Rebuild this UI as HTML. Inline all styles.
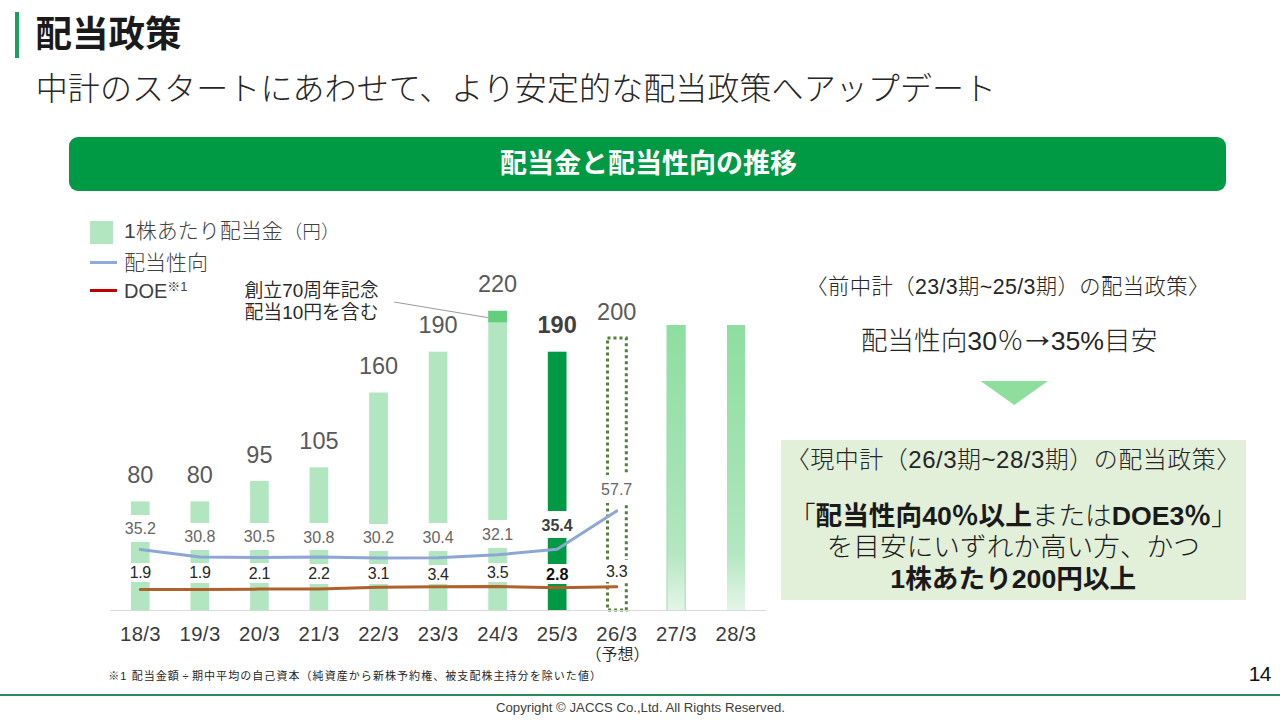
<!DOCTYPE html>
<html lang="ja">
<head>
<meta charset="utf-8">
<title>配当政策</title>
<style>
*{margin:0;padding:0;box-sizing:border-box}
html,body{width:1280px;height:720px;overflow:hidden;background:#fff}
body{position:relative;font-family:"Liberation Sans","Noto Sans CJK JP",sans-serif;color:#262626}
.a{position:absolute;white-space:nowrap}
.c{position:absolute;white-space:nowrap;text-align:center;transform:translateX(-50%)}
#tbar{left:15px;top:12px;width:4px;height:46px;background:#1aa05e}
#title{left:35.5px;top:8.5px;font-size:36.5px;line-height:52px;font-weight:700;color:#1a1a1a}
#sub{left:35.75px;top:64.5px;font-size:32px;line-height:48px;font-weight:300;color:#262626;letter-spacing:0.09px}
#banner{left:69px;top:137px;width:1157px;height:54px;border-radius:9px;background:#009944}
#bannert{left:648.5px;top:144.2px;font-size:27px;line-height:40px;font-weight:700;color:#fff}
.lg{font-size:21px;line-height:30px;font-weight:300;color:#404040}
.vl{font-size:23.5px;line-height:28px;color:#595959;font-weight:400}
.vl.b{color:#404040}
.wb{background:#fff}
.pl{font-size:16px;line-height:18px;color:#666}
.pl.b{color:#404040;font-size:16px}
.dl{font-size:16px;line-height:20px;color:#262626;letter-spacing:-0.3px}
.dl.b{color:#111;font-size:16.2px;letter-spacing:0}
.xl{font-size:20.3px;line-height:24px;color:#3a3a3a;letter-spacing:0.4px;text-indent:0.4px}
.b{font-weight:700}
.r1{font-size:21.33px;line-height:30px;font-weight:300;color:#262626}
.r2{font-size:26.67px;line-height:36px;font-weight:300;color:#262626}
.r3{font-size:24px;line-height:32px;font-weight:300;color:#262626}
.r4{font-size:26.67px;line-height:32px;font-weight:300;color:#1a1a1a}
.r4 b{font-weight:700}
.ar{font-size:37px;line-height:0;margin:0 -5px;position:relative;top:-3px}
</style>
</head>
<body>
<div class="a" id="tbar"></div>
<div class="a" id="title">配当政策</div>
<div class="a" id="sub">中計のスタートにあわせて、より安定的な配当政策へアップデート</div>
<div class="a" id="banner"></div>
<div class="c" id="bannert">配当金と配当性向の推移</div>

<!-- legend -->
<div class="a" style="left:90px;top:221px;width:23px;height:23px;background:#b1e6c0"></div>
<div class="a lg" style="left:124px;top:216px">1株あたり配当金<span style="font-size:18.6px;margin-left:1px;position:relative;top:-0.5px">（円）</span></div>
<div class="a" style="left:89.5px;top:260.5px;width:27px;height:3px;background:#8faadc"></div>
<div class="a lg" style="left:124px;top:248px">配当性向</div>
<div class="a" style="left:89.5px;top:288.5px;width:27px;height:3px;background:#c00000"></div>
<div class="a lg" style="left:124px;top:276px"><span style="font-size:20px">DOE</span><span style="font-size:13px;position:relative;top:-7px">※1</span></div>

<div class="a" style="left:244.5px;top:280.2px;font-size:18.85px;line-height:22px;color:#262626;font-weight:350">創立70周年記念<br>配当10円を含む</div>

<!-- chart: bars -->
<svg class="a" style="left:0;top:0" width="1280" height="720" viewBox="0 0 1280 720">
  <defs>
    <linearGradient id="g1" x1="0" y1="0" x2="0" y2="1">
      <stop offset="0" stop-color="#8edea0"/>
      <stop offset="0.55" stop-color="#a5e3b4"/>
      <stop offset="0.8" stop-color="#b4e7c1"/>
      <stop offset="1" stop-color="#e4f5e8"/>
    </linearGradient>
  </defs>
  <g fill="#b1e6c0">
    <rect x="130.95" y="501.4" width="18.7" height="108.9"/>
    <rect x="190.5" y="501.4" width="18.7" height="108.9"/>
    <rect x="250.05" y="480.98" width="18.7" height="129.32"/>
    <rect x="309.6" y="467.36" width="18.7" height="142.94"/>
    <rect x="369.15" y="392.49" width="18.7" height="217.81"/>
    <rect x="428.7" y="351.65" width="18.7" height="258.65"/>
    <rect x="488.25" y="310.81" width="18.7" height="299.49"/>
  </g>
  <rect x="488.25" y="310.8" width="18.7" height="11.5" fill="#61cf7c"/>
  <rect x="547.8" y="351.7" width="18.7" height="258.6" fill="#009944"/>
  <rect x="666.9" y="325" width="18.4" height="285.2" fill="url(#g1)"/>
  <path d="M667 325V610M685.2 325V610" stroke="#9fdbb0" stroke-width="1" fill="none"/>
  <rect x="727" y="325" width="18" height="285.2" fill="url(#g1)"/>
  <rect x="607.5" y="338" width="18.8" height="272" fill="none" stroke="#55803a" stroke-width="3" stroke-dasharray="3 3"/>
  <line x1="110" y1="610.5" x2="766" y2="610.5" stroke="#d9d9d9" stroke-width="1"/>
  <line x1="394.2" y1="302" x2="487.8" y2="317.6" stroke="#7f7f7f" stroke-width="0.8"/>
</svg>

<!-- chart: labels -->
<div class="c vl" style="left:140.3px;top:461px">80</div>
<div class="c vl" style="left:199.85px;top:461px">80</div>
<div class="c vl" style="left:259.4px;top:440.58px">95</div>
<div class="c vl" style="left:318.95px;top:426.96px">105</div>
<div class="c vl" style="left:378.5px;top:352.09px">160</div>
<div class="c vl" style="left:438.05px;top:311.25px">190</div>
<div class="c vl" style="left:497.6px;top:270.41px">220</div>
<div class="c vl b" style="left:557.15px;top:311.25px">190</div>
<div class="c vl" style="left:616.7px;top:297.64px">200</div>
<div class="a wb" style="left:118.3px;top:515px;width:44px;height:27.2px"></div>
<div class="c pl" style="left:140.3px;top:520.2px">35.2</div>
<div class="a wb" style="left:177.85px;top:522.8px;width:44px;height:27.2px"></div>
<div class="c pl" style="left:199.85px;top:528.4px">30.8</div>
<div class="a wb" style="left:237.4px;top:522.9px;width:44px;height:27.2px"></div>
<div class="c pl" style="left:259.4px;top:528.3px">30.5</div>
<div class="a wb" style="left:296.95px;top:522.5px;width:44px;height:27.5px"></div>
<div class="c pl" style="left:318.95px;top:528.5px">30.8</div>
<div class="a wb" style="left:356.5px;top:523.6px;width:44px;height:27.6px"></div>
<div class="c pl" style="left:378.5px;top:528.8px">30.2</div>
<div class="a wb" style="left:416.05px;top:522.9px;width:44px;height:28px"></div>
<div class="c pl" style="left:438.05px;top:528.7px">30.4</div>
<div class="a wb" style="left:475.6px;top:519.8px;width:44px;height:28px"></div>
<div class="c pl" style="left:497.6px;top:525.8px">32.1</div>
<div class="a wb" style="left:535.15px;top:510.8px;width:44px;height:27.3px"></div>
<div class="c pl b" style="left:557.15px;top:516.6px">35.4</div>
<div class="a wb" style="left:594.7px;top:475px;width:44px;height:27.5px"></div>
<div class="c pl" style="left:616.7px;top:481px">57.7</div>
<div class="a wb" style="left:120.3px;top:562.6px;width:40px;height:19.9px"></div>
<div class="c dl" style="left:140.3px;top:563.2px">1.9</div>
<div class="a wb" style="left:179.85px;top:562.6px;width:40px;height:20.4px"></div>
<div class="c dl" style="left:199.85px;top:563.2px">1.9</div>
<div class="a wb" style="left:239.4px;top:563.4px;width:40px;height:19.9px"></div>
<div class="c dl" style="left:259.4px;top:564px">2.1</div>
<div class="a wb" style="left:298.95px;top:563.7px;width:40px;height:19.9px"></div>
<div class="c dl" style="left:318.95px;top:564px">2.2</div>
<div class="a wb" style="left:358.5px;top:564.2px;width:40px;height:19.8px"></div>
<div class="c dl" style="left:378.5px;top:564.2px">3.1</div>
<div class="a wb" style="left:418.05px;top:564.5px;width:40px;height:19.8px"></div>
<div class="c dl" style="left:438.05px;top:564.9px">3.4</div>
<div class="a wb" style="left:477.6px;top:562.6px;width:40px;height:19.6px"></div>
<div class="c dl" style="left:497.6px;top:563.1px">3.5</div>
<div class="a wb" style="left:537.15px;top:564px;width:40px;height:19.6px"></div>
<div class="c dl b" style="left:557.15px;top:564.4px">2.8</div>
<div class="a wb" style="left:596.7px;top:560px;width:40px;height:22px"></div>
<div class="c dl" style="left:616.7px;top:561.8px">3.3</div>
<div class="c xl" style="left:140.3px;top:622.4px">18/3</div>
<div class="c xl" style="left:199.85px;top:622.4px">19/3</div>
<div class="c xl" style="left:259.4px;top:622.4px">20/3</div>
<div class="c xl" style="left:318.95px;top:622.4px">21/3</div>
<div class="c xl" style="left:378.5px;top:622.4px">22/3</div>
<div class="c xl" style="left:438.05px;top:622.4px">23/3</div>
<div class="c xl" style="left:497.6px;top:622.4px">24/3</div>
<div class="c xl" style="left:557.15px;top:622.4px">25/3</div>
<div class="c xl" style="left:616.7px;top:622.4px">26/3</div>
<div class="c xl" style="left:676.25px;top:622.4px">27/3</div>
<div class="c xl" style="left:735.8px;top:622.4px">28/3</div>
<div class="c" style="left:617.5px;top:645.4px;font-size:16px;line-height:20px;color:#262626;font-weight:350">（予想）</div>

<!-- chart: lines -->
<svg class="a" style="left:0;top:0" width="1280" height="720" viewBox="0 0 1280 720">
  <polyline points="140.3,549.53 199.85,557.08 259.4,557.59 318.95,557.08 378.5,558.11 438.05,557.76 497.6,554.85 557.15,549.19 616.7,510.94" fill="none" stroke="#8da7d4" stroke-width="3" stroke-linejoin="round" stroke-linecap="round"/>
  <polyline points="140.3,589.5 199.85,589.5 259.4,589.12 318.95,588.93 378.5,587.25 438.05,586.68 497.6,586.5 557.15,587.81 616.7,586.87" fill="none" stroke="#b0602a" stroke-width="3" stroke-linejoin="round" stroke-linecap="round"/>
</svg>

<!-- right panel -->
<div class="c r1" style="left:1008px;top:271.5px;letter-spacing:0.4px">〈前中計（23/3期~25/3期）の配当政策〉</div>
<div class="c r2" style="left:1009px;top:323px">配当性向30％<span class="ar">→</span>35%目安</div>
<svg class="a" style="left:980px;top:380px" width="70" height="28" viewBox="0 0 70 28"><polygon points="0.6,1 68,1 34.3,25" fill="#8ede9e"/></svg>
<div class="a" style="left:780.7px;top:440.3px;width:465.2px;height:160.1px;background:#e2efd9"></div>
<div class="c r3" style="left:1013.3px;top:443.5px;letter-spacing:0.5px">〈現中計（26/3期~28/3期）の配当政策〉</div>
<div class="c r4" style="left:1013.3px;top:500px">「<b>配当性向40％以上</b>または<b>DOE3％</b>」</div>
<div class="c r4" style="left:1013.3px;top:531px">を目安にいずれか高い方、かつ</div>
<div class="c r4" style="left:1013.3px;top:562.5px"><b>1株あたり200円以上</b></div>

<!-- footer -->
<div class="a" style="left:108.3px;top:667px;font-size:11px;line-height:18px;color:#262626;font-weight:400;letter-spacing:1.06px">※1 配当金額<span style="margin:0 2.5px">÷</span>期中平均の自己資本（純資産から新株予約権、被支配株主持分を除いた値）</div>
<div class="a" style="left:1240.6px;top:661.5px;width:30px;text-align:right;font-size:21px;line-height:24px;font-weight:400;color:#111;letter-spacing:-0.8px">14</div>
<div class="a" style="left:0;top:694px;width:1280px;height:2px;background:#2a8c55"></div>
<div class="c" style="left:640.5px;top:699px;font-size:13.2px;line-height:18px;color:#404040">Copyright © JACCS Co.,Ltd. All Rights Reserved.</div>
</body>
</html>
